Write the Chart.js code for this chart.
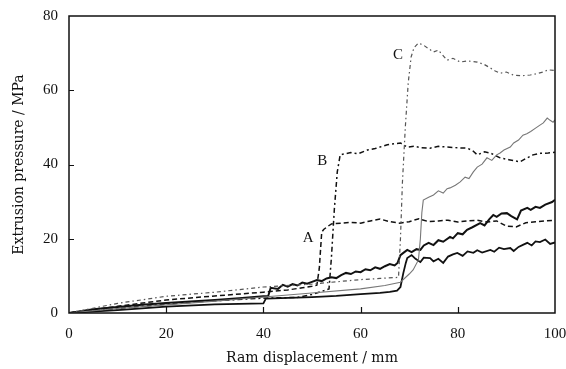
<!DOCTYPE html>
<html>
<head>
<meta charset="utf-8">
<script src="https://cdn.jsdelivr.net/npm/chart.js@4.4.1/dist/chart.umd.min.js"></script>
<style>
  html, body { margin: 0; padding: 0; background: #fff; }
  canvas { display: block; }
</style>
</head>
<body>
<canvas id="chart" width="566" height="369"></canvas>
<script>
// Axis tick values
const xTicks = [0, 20, 40, 60, 80, 100];
const yTicks = [0, 20, 40, 60, 80];

// Curve A (dashed)
const aX = [0, 10, 20, 30, 40, 45, 48, 50, 51, 51.5, 52, 52.4, 53, 54, 56, 58, 60, 62, 64, 66, 68, 70, 72, 74, 76, 78, 80, 82, 84, 86, 88, 90, 92, 94, 96, 98, 100];
const aY = [0, 1.8, 3.5, 4.6, 5.6, 6.2, 6.8, 7.2, 7.5, 12, 21.8, 22.5, 23.1, 24.0, 24.2, 24.4, 24.2, 24.8, 25.3, 24.6, 24.2, 24.6, 25.4, 24.6, 24.8, 25.0, 24.5, 24.8, 25.0, 24.5, 24.8, 23.4, 23.2, 24.3, 24.6, 24.8, 25.0];

// Curve B (dash-dot)
const bX = [0, 10, 20, 30, 40, 47, 50, 52, 53.5, 54, 54.6, 55.2, 55.8, 56.5, 58, 59.5, 61.4, 63, 64, 65.5, 66.5, 68.2, 69.6, 71, 72.5, 74.3, 76, 77.8, 80, 81.9, 83, 84, 85.5, 86.7, 88.7, 90.5, 92.8, 94, 95.5, 97, 98.6, 100];
const bY = [0, 1.2, 2.4, 3.3, 4.0, 4.2, 5.0, 5.8, 6.5, 15, 28, 38, 42.6, 42.8, 43.2, 42.9, 43.9, 44.3, 44.7, 45.3, 45.5, 45.8, 44.7, 44.9, 44.5, 44.4, 44.9, 44.7, 44.5, 44.4, 43.8, 42.6, 43.4, 43.1, 41.8, 41.3, 40.7, 41.6, 42.6, 43.0, 43.1, 43.3];

// Curve C (grey dash-dot-dot)
const cX = [0, 10, 20, 30, 40, 50, 55, 60, 64, 67.8, 68.2, 68.6, 69.2, 69.8, 70.4, 71.0, 71.9, 73, 74, 75, 76, 77.8, 79, 80.5, 82, 84, 85.5, 86.7, 87.7, 88.7, 90, 91.4, 93, 94.9, 96, 97.5, 98.6, 100];
const cY = [0, 2.6, 4.5, 5.6, 7.0, 7.8, 8.4, 9.0, 9.3, 9.6, 20, 35, 50, 62, 69, 71.5, 72.7, 72.1, 71.2, 70.3, 70.8, 68.1, 68.6, 67.6, 67.9, 67.6, 66.9, 66.0, 65.2, 64.6, 64.9, 64.1, 63.9, 64.1, 64.4, 64.9, 65.5, 65.3];

// Grey solid curve
const dX = [0, 10, 20, 30, 40, 50, 60, 65, 68.2, 70, 70.8, 71.9, 72.3, 72.6, 72.9, 74, 75, 76, 77, 77.8, 78.4, 79.5, 80.5, 81.5, 82.3, 83.2, 84, 85, 86, 87, 88, 88.7, 89.5, 90.8, 91.5, 92.5, 93.4, 94.2, 95, 96, 96.9, 97.6, 98.4, 99, 99.6, 100];
const dY = [0, 1.2, 2.2, 3.2, 4.3, 5.4, 6.5, 7.4, 8.3, 10.5, 11.6, 14.3, 20, 27, 30.4, 31.2, 31.8, 32.9, 32.3, 33.5, 33.7, 34.4, 35.3, 36.6, 36.2, 38.0, 39.3, 40.1, 41.8, 41.1, 42.6, 43.1, 43.9, 44.7, 45.8, 46.6, 47.9, 48.3, 48.9, 49.8, 50.6, 51.2, 52.5, 51.9, 51.4, 52.0];

// Black solid curve, upper
const eX = [0, 5, 10, 15, 20, 25, 30, 35, 40, 41, 41.5, 43, 44, 45, 46, 47, 48, 49, 50, 51, 52, 53, 54, 55, 56, 57, 58, 59, 60, 61, 62, 63, 64, 65, 66, 67, 67.6, 68.2, 68.8, 69.6, 70.5, 71.5, 72.3, 73, 74, 75, 76, 77, 78.4, 79, 80, 81, 81.9, 83, 84.6, 85.5, 86.5, 87.3, 88, 89, 90.1, 91, 92.2, 93, 94.3, 95, 96, 96.9, 98, 99.4, 100];
const eY = [0, 1, 1.6, 2.2, 2.7, 3.1, 3.5, 4, 4.5, 4.6, 6.8, 6.5, 7.6, 7.1, 7.8, 7.4, 8.2, 7.9, 8.4, 8.9, 8.6, 9.3, 9.6, 9.4, 10.2, 10.8, 10.5, 11.2, 11.0, 11.8, 11.5, 12.3, 11.9, 12.6, 13.2, 12.8, 13.5, 15.6, 16.2, 17.0, 16.4, 17.2, 17.0, 18.2, 18.9, 18.3, 19.6, 19.2, 20.5, 20.1, 21.5, 21.2, 22.4, 23.1, 24.2, 23.6, 25.3, 26.4, 25.9, 26.8, 26.9, 26.1, 25.2, 27.6, 28.3, 27.8, 28.6, 28.3, 29.2, 29.9, 30.5];

// Black solid curve, lower
const fX = [0, 10, 20, 30, 40, 40.5, 50, 55, 60, 64, 66, 67.5, 68.2, 68.8, 69.3, 69.6, 70.5, 71.3, 72.3, 73, 74.3, 75, 76, 77, 78, 79, 79.9, 81, 82, 83.2, 84, 85, 86.7, 87.5, 88.5, 89.5, 90.8, 91.5, 92.5, 93.5, 94.3, 95.2, 96, 96.9, 98, 99, 100];
const fY = [0, 0.8, 1.7, 2.3, 2.6, 3.9, 4.3, 4.6, 5.1, 5.4, 5.7, 6.0, 7.0, 10.8, 13.5, 14.8, 15.6, 14.6, 13.7, 14.9, 14.8, 13.9, 14.6, 13.5, 15.2, 15.8, 16.2, 15.4, 16.6, 16.2, 16.9, 16.3, 17.0, 16.5, 17.6, 17.2, 17.5, 16.7, 17.8, 18.4, 18.9, 18.2, 19.3, 19.1, 19.8, 18.6, 19.0];

// Curve letters, placed in data units
const curveLabels = [
  { text: 'A', x: 49.2, y: 20.2 },
  { text: 'B', x: 52.1, y: 40.9 },
  { text: 'C', x: 67.7, y: 69.4 }
];

const TICK_FONT = '"Liberation Serif", "Times New Roman", serif';
const TITLE_FONT = '"DejaVu Serif", serif';

function pts(xs, ys) { return xs.map((v, i) => ({ x: v, y: ys[i] })); }

// Frame, inward tick marks and curve letters
const frameAndMarks = {
  id: 'frameAndMarks',
  afterDatasetsDraw(chart) {
    const { ctx, chartArea: a, scales: { x, y } } = chart;
    ctx.save();
    ctx.strokeStyle = '#111';
    ctx.lineWidth = 1.5;
    ctx.strokeRect(a.left, a.top, a.right - a.left, a.bottom - a.top);
    ctx.lineWidth = 1.2;
    ctx.beginPath();
    xTicks.slice(1, -1).forEach(v => {
      const px = Math.round(x.getPixelForValue(v)) + 0.5;
      ctx.moveTo(px, a.bottom); ctx.lineTo(px, a.bottom - 6);
    });
    yTicks.slice(1, -1).forEach(v => {
      const py = Math.round(y.getPixelForValue(v)) + 0.5;
      ctx.moveTo(a.left, py); ctx.lineTo(a.left + 5, py);
    });
    ctx.stroke();
    ctx.fillStyle = '#111';
    ctx.font = '15px ' + TICK_FONT;
    ctx.textAlign = 'center';
    ctx.textBaseline = 'middle';
    curveLabels.forEach(l => ctx.fillText(l.text, x.getPixelForValue(l.x), y.getPixelForValue(l.y)));
    ctx.restore();
  }
};

const line = (data, color, width, dash) => ({
  data, borderColor: color, borderWidth: width, borderDash: dash,
  pointRadius: 0, tension: 0, fill: false
});

new Chart(document.getElementById('chart'), {
  type: 'line',
  data: {
    datasets: [
      line(pts(cX, cY), '#555', 1.2, [4, 3, 1.5, 3]),
      line(pts(dX, dY), '#777', 1.1, []),
      line(pts(bX, bY), '#111', 1.5, [5, 3, 2, 3]),
      line(pts(aX, aY), '#111', 1.5, [5, 3]),
      line(pts(fX, fY), '#111', 1.8, []),
      line(pts(eX, eY), '#111', 2.0, [])
    ]
  },
  options: {
    responsive: false,
    animation: false,
    events: [],
    layout: { padding: { left: 0, right: 11, top: 16, bottom: 0 } },
    plugins: { legend: { display: false }, tooltip: { enabled: false } },
    scales: {
      x: {
        type: 'linear', min: 0, max: 100,
        afterFit: s => { s.height = 56; s.paddingLeft = 0; s.paddingRight = 0; },
        afterBuildTicks: s => { s.ticks = xTicks.map(v => ({ value: v })); },
        grid: { display: false, drawTicks: false },
        border: { display: false },
        ticks: { color: '#111', padding: 12, maxRotation: 0, font: { family: TICK_FONT, size: 15 } },
        title: { display: true, text: 'Ram displacement / mm', color: '#111', padding: { top: 0, bottom: 2 }, font: { family: TITLE_FONT, size: 14 } }
      },
      y: {
        type: 'linear', min: 0, max: 80,
        afterFit: s => { s.width = 69; s.paddingTop = 0; s.paddingBottom = 0; },
        afterBuildTicks: s => { s.ticks = yTicks.map(v => ({ value: v })); },
        grid: { display: false, drawTicks: false },
        border: { display: false },
        ticks: { color: '#111', padding: 11, font: { family: TICK_FONT, size: 15 } },
        title: { display: true, text: 'Extrusion pressure / MPa', color: '#111', padding: { top: 11, bottom: 0 }, font: { family: TITLE_FONT, size: 14 } }
      }
    }
  },
  plugins: [frameAndMarks]
});
</script>
</body>
</html>
